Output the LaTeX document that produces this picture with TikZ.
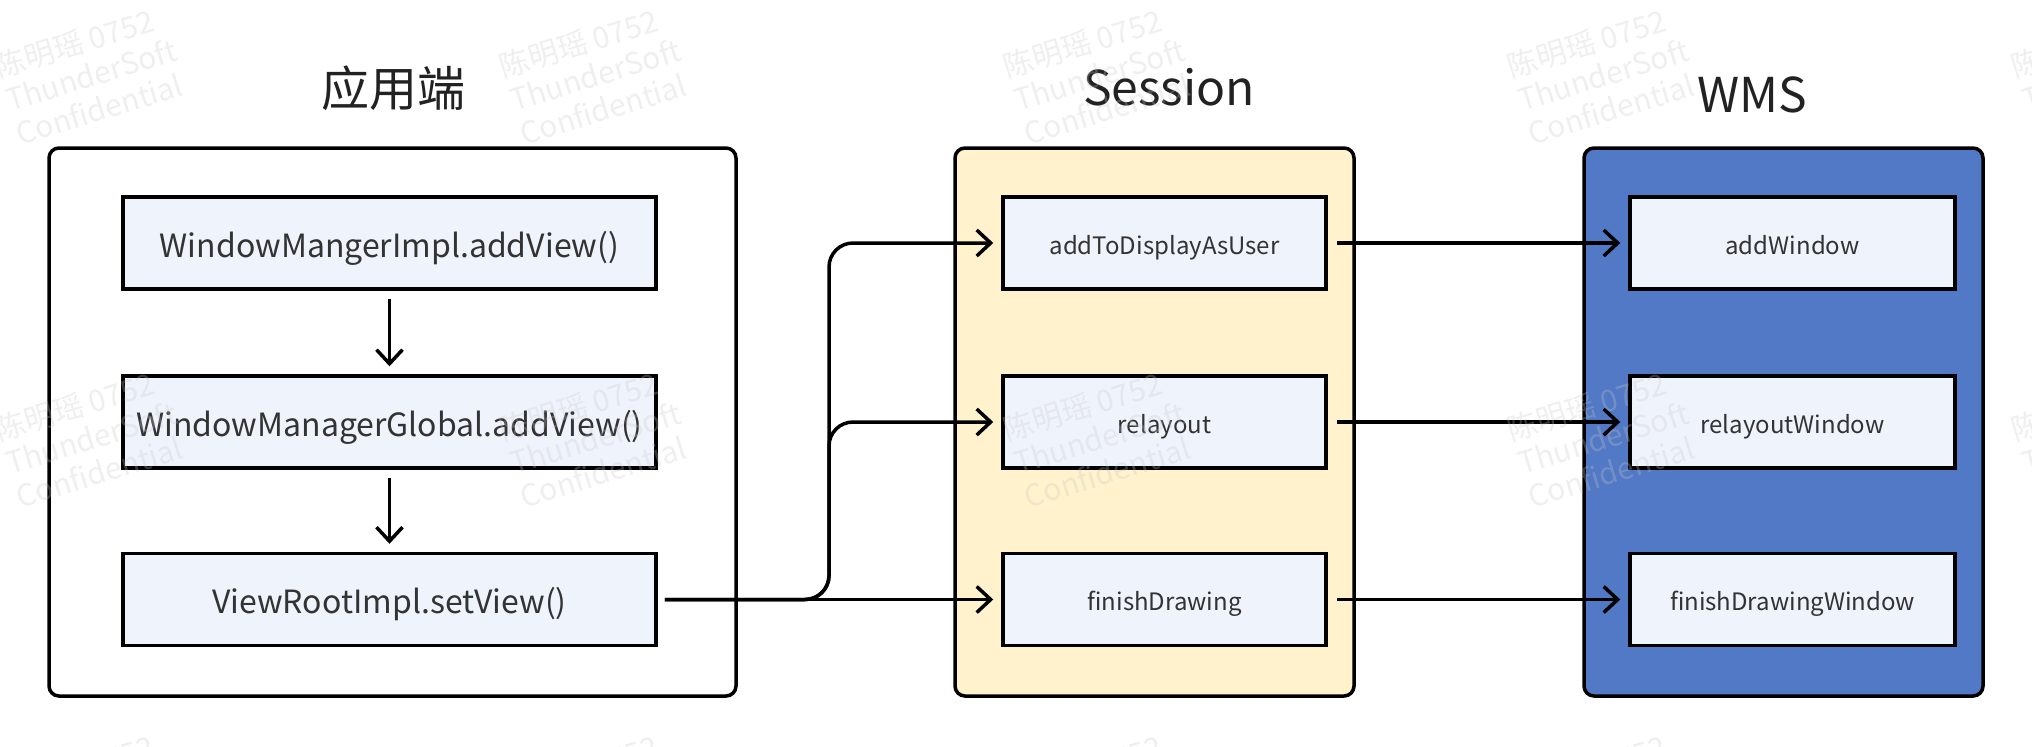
\documentclass[tikz,border=0pt]{standalone}
\usepackage{fontspec}
\setmainfont{Noto Sans CJK SC}
\usetikzlibrary{arrows.meta,calc}
\definecolor{sessfill}{HTML}{FFF2CC}
\definecolor{wmsfill}{HTML}{5279C5}
\definecolor{boxfill}{HTML}{EFF3FC}
\definecolor{txt}{HTML}{333333}
\definecolor{ttl}{HTML}{222222}
\definecolor{wm}{HTML}{C8C8C8}
\begin{document}
\begin{tikzpicture}[x=0.5pt,y=-0.5pt,
  container/.style={draw=black, line width=1.75pt, rounded corners=5pt, inner sep=0pt,
    minimum height=274pt},
  basebox/.style={draw=black, line width=1.75pt, fill=boxfill, inner sep=0pt,
    minimum height=46pt, text=txt, text depth=0pt},
  leftbox/.style={basebox, minimum width=266.5pt, text height=14.2pt,
    font=\fontsize{16}{19}\selectfont},
  sbox/.style={basebox, minimum width=161.5pt, text height=11.2pt,
    font=\fontsize{12}{14}\selectfont},
  wbox/.style={basebox, minimum width=162.5pt, text height=11.2pt,
    font=\fontsize{12}{14}\selectfont},
  title/.style={text=ttl, inner sep=0pt, font=\fontsize{24}{28}\selectfont},
  conn/.style={line width=1.75pt, -{Straight Barb[length=7pt,width=13pt,line width=1.75pt]}},
  wmark/.style={text=wm, opacity=0.28, rotate=17, align=left, inner sep=0pt,
    font=\fontsize{15}{17.5}\selectfont}
]
\useasboundingbox (0,0) rectangle (2032,746);
\fill[white] (0,0) rectangle (2032,746);

% containers
\node[container, fill=white, minimum width=343.5pt] (appc) at (392.5,422) {};
\node[container, fill=sessfill, minimum width=199.5pt] (sessc) at (1154.5,422) {};
\node[container, fill=wmsfill, minimum width=199.5pt] (wmsc) at (1783.5,422) {};

% titles
\node[title] (tapp) at (393,88) {应用端};
\node[title] (tsess) at (1169,87) {Session};
\node[title] (twms) at (1752,95) {WMS};

% left boxes
\node[leftbox] (a1) at (389.5,243) {WindowMangerImpl.addView()};
\node[leftbox] (a2) at (389.5,422) {WindowManagerGlobal.addView()};
\node[leftbox] (a3) at (389.5,599.5) {ViewRootImpl.setView()};

% session boxes
\node[sbox] (s1) at (1164.5,243) {addToDisplayAsUser};
\node[sbox] (s2) at (1164.5,422) {relayout};
\node[sbox] (s3) at (1164.5,599.5) {finishDrawing};

% wms boxes
\node[wbox] (w1) at (1792.5,243) {addWindow};
\node[wbox] (w2) at (1792.5,422) {relayoutWindow};
\node[wbox] (w3) at (1792.5,599.5) {finishDrawingWindow};

% connectors
\draw[conn, shorten <=4pt, shorten >=4pt] (a1) -- (a2);
\draw[conn, shorten <=4pt, shorten >=4pt] (a2) -- (a3);

\coordinate (split) at (829,599.5);
\draw[conn] ([xshift=3.5pt]a3.east) -- ([xshift=-4pt]s3.west);
\draw[conn, rounded corners=12pt] ([xshift=3.5pt]a3.east) -- (split) |- ([xshift=-4pt]s2.west);
\draw[conn, rounded corners=12pt] ([xshift=3.5pt]a3.east) -- (split) |- ([xshift=-4pt]s1.west);

\draw[conn] ([xshift=4.5pt]s1.east) -- ([xshift=-4pt]w1.west);
\draw[conn] ([xshift=4.5pt]s2.east) -- ([xshift=-4pt]w2.west);
\draw[conn] ([xshift=4.5pt]s3.east) -- ([xshift=-4pt]w3.west);

% watermarks
\foreach \i in {0,...,4} {
  \foreach \j in {0,1,2} {
    \node[wmark] at (91+504*\i, 74+363*\j) {陈明瑶 0752\\ThunderSoft\\Confidential};
  }
}
\end{tikzpicture}
\end{document}
